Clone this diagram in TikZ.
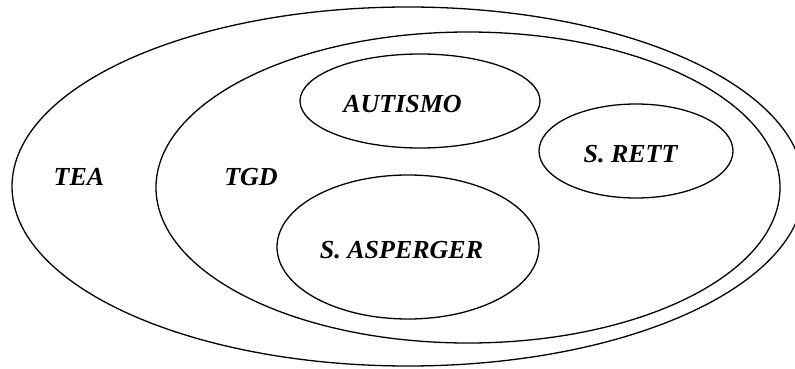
\documentclass[tikz,border=0pt]{standalone}
\usepackage{fontspec}
\setmainfont{Liberation Serif}
\tikzset{
  ring/.style={draw=black, line width=1.3pt},
  lbl/.style={font=\fontsize{26}{30}\selectfont\bfseries\itshape, inner sep=0pt, anchor=base}
}
\begin{document}
\begin{tikzpicture}[x=1pt,y=-1pt]
\clip (0,0) rectangle (795,369);
\fill[white] (0,0) rectangle (795,369);
% TEA
\draw[ring] (408,186.5) ellipse [x radius=396, y radius=179.5];
% TGD
\draw[ring] (468,187.5) ellipse [x radius=312, y radius=155.5];
% AUTISMO
\draw[ring] (420,101) ellipse [x radius=120, y radius=47];
% S. RETT
\draw[ring] (636,151) ellipse [x radius=97, y radius=47];
% S. ASPERGER
\draw[ring] (408,247) ellipse [x radius=131, y radius=72];
\node[lbl] (tea) at (79,185) {TEA};
\node[lbl] (tgd) at (251,185) {TGD};
\node[lbl] (aut) at (402.5,112) {AUTISMO};
\node[lbl] (rett) at (630.5,162) {S. RETT};
\node[lbl] (asp) at (401.5,258) {S. ASPERGER};
\end{tikzpicture}
\end{document}
